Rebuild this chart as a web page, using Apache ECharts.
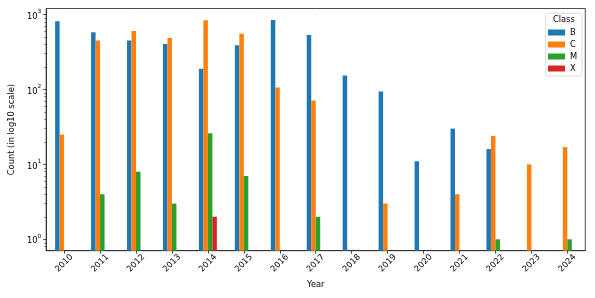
<!DOCTYPE html>
<html>
<head>
<meta charset="utf-8">
<script src="https://cdn.jsdelivr.net/npm/echarts@6/dist/echarts.min.js"></script>
<style>html,body{margin:0;padding:0;background:#fff}#c{width:595px;height:298px}</style>
</head>
<body>
<div id="c"></div>
<script>
const years = ['2010','2011','2012','2013','2014','2015','2016','2017','2018','2019','2020','2021','2022','2023','2024'];
const classB = [811, 580, 450, 404, 189, 388, 845, 533, 153, 94, 11, 30, 16, null, null];
const classC = [25, 448, 603, 486, 838, 555, 106, 71, null, 3, null, 4, 24, 10, 17];
const classM = [null, 4, 8, 3, 26, 7, null, 2, null, null, null, null, 1, null, 1];
const classX = [null, null, null, null, 2, null, null, null, null, null, null, null, null, null, null];
const majorTicks = [1, 10, 100, 1000];
const minorTicks = [0.8, 0.9, 2, 3, 4, 5, 6, 7, 8, 9, 20, 30, 40, 50, 60, 70, 80, 90, 200, 300, 400, 500, 600, 700, 800, 900];

const FONT = 'DejaVu Sans';
const Y_MIN = 0.705, Y_MAX = 1202;
const chart = echarts.init(document.getElementById('c'), null, {renderer: 'canvas'});

function mkSeries(name, data, color) {
  return {
    name: name, type: 'bar', data: data, yAxisIndex: 0,
    itemStyle: {color: color},
    barGap: '0%', barCategoryGap: '50%',
    emphasis: {disabled: true}
  };
}

chart.setOption({
  animation: false,
  grid: {left: 41.5, right: 9.7, top: 8.5, bottom: 47.3, show: true, borderColor: '#222', borderWidth: 0.8, backgroundColor: 'transparent'},
  legend: {
    data: ['B', 'C', 'M', 'X'],
    orient: 'vertical',
    left: 548, top: 27.5,
    padding: 0, z: 10,
    itemWidth: 17, itemHeight: 6, itemGap: 2,
    icon: 'rect',
    selectedMode: false,
    textStyle: {fontFamily: FONT, fontSize: 8.3, color: '#000', lineHeight: 10}
  },
  xAxis: {
    type: 'category', data: years,
    name: 'Year', nameLocation: 'middle', nameGap: 29,
    nameTextStyle: {fontFamily: FONT, fontSize: 8.3, color: '#000'},
    axisLine: {show: true, lineStyle: {color: '#222', width: 0.8}},
    axisTick: {show: true, alignWithLabel: true, length: 3, lineStyle: {color: '#222', width: 0.8}},
    axisLabel: {rotate: 45, align: 'center', verticalAlign: 'middle', margin: 12.5, fontFamily: FONT, fontSize: 8.3, color: '#000', interval: 0},
    splitLine: {show: false}
  },
  yAxis: [{
    type: 'log', logBase: 10, min: Y_MIN, max: Y_MAX, startValue: Y_MIN,
    name: 'Count (in log10 scale)', nameLocation: 'middle', nameGap: 23,
    nameTextStyle: {fontFamily: FONT, fontSize: 8.3, color: '#000'},
    axisLine: {show: true, lineStyle: {color: '#222', width: 0.8}},
    axisTick: {show: true, length: 3, customValues: majorTicks, lineStyle: {color: '#222', width: 0.8}},
    axisLabel: {
      customValues: majorTicks, margin: 5,
      formatter: function (v) { return '{b|10}{s|' + Math.round(Math.log10(v)) + '}'; },
      rich: {
        b: {fontFamily: FONT, fontSize: 8.3, color: '#000', lineHeight: 12, verticalAlign: 'bottom'},
        s: {fontFamily: FONT, fontSize: 5.8, color: '#000', lineHeight: 7, verticalAlign: 'top'}
      }
    },
    splitLine: {show: false}
  }, {
    type: 'log', logBase: 10, min: Y_MIN, max: Y_MAX, position: 'left',
    axisLine: {show: false},
    axisTick: {show: true, length: 1.8, customValues: minorTicks, lineStyle: {color: '#222', width: 0.6}},
    axisLabel: {show: false},
    splitLine: {show: false}
  }],
  graphic: [{
    type: 'rect', x: 545.7, y: 13.3, z: 5,
    shape: {width: 36.3, height: 62.7, r: 2},
    style: {fill: 'rgba(255,255,255,0.8)', stroke: '#d0d0d0', lineWidth: 0.8}
  }, {
    type: 'text', z: 11, x: 563.8, y: 15.5,
    style: {text: 'Class', fontFamily: FONT, fontSize: 8.3, fill: '#000', align: 'center', verticalAlign: 'top'}
  }],
  series: [
    mkSeries('B', classB, '#1f77b4'),
    mkSeries('C', classC, '#ff7f0e'),
    mkSeries('M', classM, '#2ca02c'),
    mkSeries('X', classX, '#d62728')
  ]
});
</script>
</body>
</html>
